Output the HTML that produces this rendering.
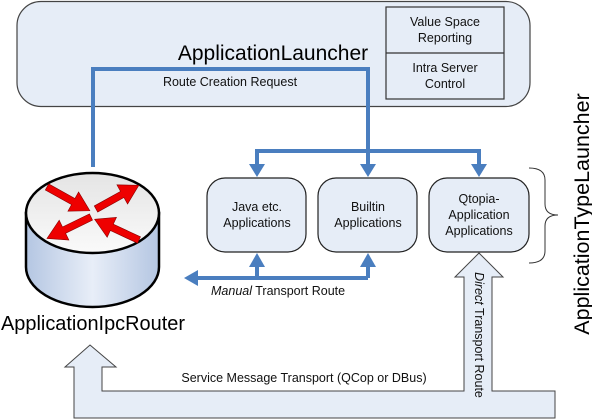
<!DOCTYPE html>
<html><head><meta charset="utf-8"><style>
html,body{margin:0;padding:0;background:#fff;}
svg{display:block;font-family:"Liberation Sans",Arial,sans-serif;}
</style></head><body>
<svg width="592" height="420" viewBox="0 0 592 420" xmlns="http://www.w3.org/2000/svg">
<defs>
<linearGradient id="body" x1="0" x2="1" y1="0" y2="0">
<stop offset="0" stop-color="#b4c6e2"/><stop offset="0.5" stop-color="#e8eef8"/><stop offset="1" stop-color="#b4c6e2"/>
</linearGradient>
<linearGradient id="top" x1="0" x2="0" y1="0" y2="1">
<stop offset="0" stop-color="#e4e4e4"/><stop offset="1" stop-color="#fafafa"/>
</linearGradient>
<g id="ar"><polygon points="0,-3.5 30,-3.5 30,-11 49,0 30,11 30,3.5 0,3.5" fill="#ee0000" stroke="#880000" stroke-width="0.6"/></g>
</defs>

<rect x="17" y="1.5" width="513" height="105" rx="24" fill="#e6edf7" stroke="#444" stroke-width="1.2"/>
<rect x="386" y="7" width="118" height="92" fill="#e6edf7" stroke="#333" stroke-width="1.2"/>
<line x1="386" y1="53" x2="504" y2="53" stroke="#333" stroke-width="1.2"/>
<text x="445" y="26" font-size="12.5" text-anchor="middle" fill="#111">Value Space</text>
<text x="445" y="42" font-size="12.5" text-anchor="middle" fill="#111">Reporting</text>
<text x="445" y="72" font-size="12.5" text-anchor="middle" fill="#111">Intra Server</text>
<text x="445" y="88" font-size="12.5" text-anchor="middle" fill="#111">Control</text>
<text x="273" y="60" font-size="21" text-anchor="middle" fill="#000">ApplicationLauncher</text>
<text x="230" y="86" font-size="12.5" text-anchor="middle" fill="#111">Route Creation Request</text>

<g stroke="#4a7ebf" stroke-width="4" fill="none">
<polyline points="93,167 93,69 368,69 368,168"/>
<polyline points="257,168 257,151 479,151 479,168"/>
<line x1="196" y1="278" x2="368" y2="278"/>
<line x1="257" y1="278" x2="257" y2="264"/>
<line x1="368" y1="278" x2="368" y2="264"/>
</g>
<g fill="#4a7ebf">
<polygon points="249,164 265,164 257,177"/>
<polygon points="360,164 376,164 368,177"/>
<polygon points="471,164 487,164 479,177"/>
<polygon points="249,267 265,267 257,253"/>
<polygon points="360,267 376,267 368,253"/>
<polygon points="198,270 198,286 184,278"/>
</g>

<g fill="#e6edf7" stroke="#222" stroke-width="1.2">
<rect x="207" y="178" width="99" height="74" rx="18"/>
<rect x="318" y="178" width="99" height="74" rx="18"/>
<rect x="429" y="178" width="100" height="74" rx="18"/>
</g>
<g font-size="12.5" text-anchor="middle" fill="#111">
<text x="257" y="211">Java etc.</text><text x="257" y="227">Applications</text>
<text x="368" y="211">Builtin</text><text x="368" y="227">Applications</text>
<text x="479" y="203">Qtopia-</text><text x="479" y="219">Application</text><text x="479" y="235">Applications</text>
</g>
<text x="211" y="295" font-size="12.5" fill="#111"><tspan font-style="italic">Manual</tspan> Transport Route</text>

<path d="M529,168 Q545,168 545,180 L545,204 Q545,215 558,215 Q545,215 545,226 L545,251 Q545,263 529,263" fill="none" stroke="#333" stroke-width="1"/>
<text transform="translate(589,214) rotate(-90)" font-size="21.5" text-anchor="middle" fill="#000">ApplicationTypeLauncher</text>

<path d="M26,213 L26,267 A66.5,40 0 0 0 159,267 L159,213 Z" fill="url(#body)" stroke="#000" stroke-width="2.5"/>
<ellipse cx="92.5" cy="213" rx="66.5" ry="40" fill="url(#top)" stroke="#000" stroke-width="2.5"/>
<use href="#ar" transform="translate(47,187) rotate(29)"/>
<use href="#ar" transform="translate(96,209) rotate(-29)"/>
<use href="#ar" transform="translate(91,217) rotate(154)"/>
<use href="#ar" transform="translate(139,240) rotate(205)"/>
<text x="1" y="330" font-size="20.5" textLength="184" lengthAdjust="spacingAndGlyphs" fill="#000">ApplicationIpcRouter</text>

<path d="M90,345 L116,367 L102,367 L102,391 L464,391 L464,277 L455,277 L479,253 L503,277 L492,277 L492,391 L555,391 L555,418 L74,418 L74,367 L65,367 Z" fill="#e6edf7" stroke="#444" stroke-width="1"/>
<text x="304" y="382" font-size="12.5" text-anchor="middle" fill="#111">Service Message Transport (QCop or DBus)</text>
<text transform="translate(475,335) rotate(90)" font-size="12.5" text-anchor="middle" fill="#111"><tspan font-style="italic">Direct</tspan> Transport Route</text>
</svg>
</body></html>
